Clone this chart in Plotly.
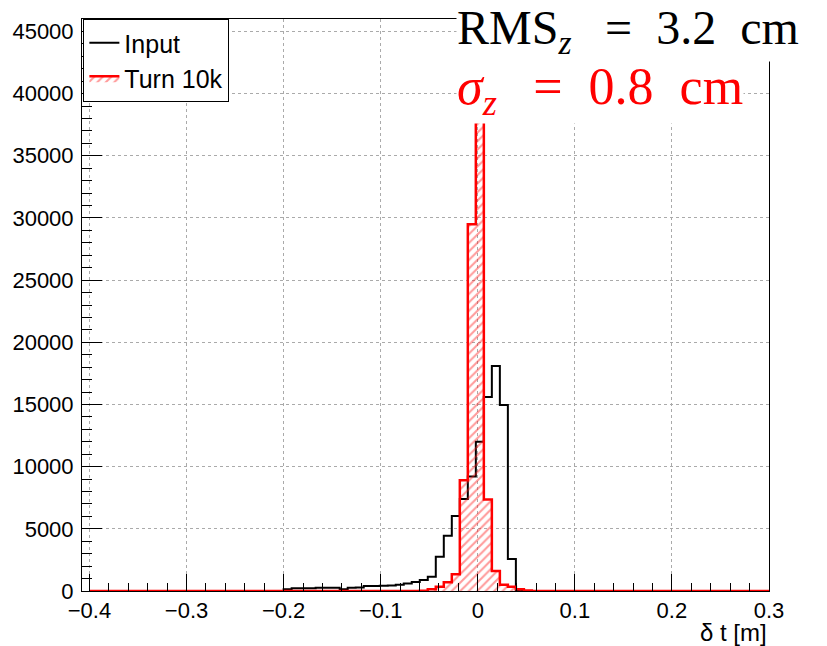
import plotly.graph_objects as go

# Histogram binning (bins start at -0.2 m, equal width)
bin_start = -0.2
bin_width = 0.00825
axis_lo, axis_hi = -0.4, 0.3

# Counts per bin, starting at bin_start
input_counts = [140, 220, 220, 220, 260, 260, 270, 140, 270, 280,
                400, 400, 420, 450, 500, 600, 720, 880, 1150, 2750,
                4450, 6030, 7400, 9200, 12000, 15600, 18100, 14950, 2570, 0,
                0]
turn10k_counts = [0, 0, 0, 0, 0, 0, 0, 0, 0, 0,
                  0, 0, 0, 0, 0, 0, 0, 30, 140, 350,
                  700, 1350, 8900, 29500, 38200, 7350, 1600, 500, 350, 150,
                  40]

legend_names = ["Input", "Turn 10k"]
rms_text = "RMS<sub><i>z</i></sub>\u2002\u2009=\u20023.2\u2002cm"
sigma_text = "<i>σ</i><sub><i>z</i></sub>\u2002\u2009=\u20020.8\u2002cm"
x_title = "δ t [m]"


def step_xy(counts):
    edges = [bin_start + i * bin_width for i in range(len(counts) + 1)]
    xs = [axis_lo] + edges[:-1] + [edges[-1], axis_hi]
    ys = [0] + list(counts) + [0, 0]
    return xs, ys


fig = go.Figure()
xi, yi = step_xy(input_counts)
fig.add_trace(go.Scatter(x=xi, y=yi, mode="lines", line=dict(color="black", width=2, shape="hv"),
                         name=legend_names[0]))
xt, yt = step_xy(turn10k_counts)
fig.add_trace(go.Scatter(x=xt, y=yt, mode="lines", line=dict(color="red", width=2.5, shape="hv"),
                         fill="tozeroy", fillcolor="rgba(255,0,0,0)",
                         fillpattern=dict(shape="/", fgcolor="rgba(255,30,30,0.9)",
                                          bgcolor="rgba(255,255,255,0)", size=6, solidity=0.35),
                         name=legend_names[1]))

font_family = "Liberation Sans, Arial, sans-serif"
serif = "Liberation Serif, Times New Roman, serif"
fig.update_layout(
    width=827, height=646,
    margin=dict(l=82, r=58, t=19, b=55),
    paper_bgcolor="white", plot_bgcolor="white",
    font=dict(family=font_family, size=22, color="black"),
    showlegend=True,
    legend=dict(x=0.002, y=1, xanchor="left", yanchor="top", bgcolor="white",
                bordercolor="black", borderwidth=1, font=dict(size=25)),
    xaxis=dict(range=[-0.4077, axis_hi], tick0=0, dtick=0.1, ticks="inside", ticklen=17,
               tickcolor="black", showline=True, linecolor="black", linewidth=1, mirror=True,
               showgrid=True, gridcolor="#aaaaaa", griddash="dot", gridwidth=1, zeroline=False,
               tickfont=dict(size=22),
               minor=dict(dtick=0.02, tick0=0, ticks="inside", ticklen=8, tickcolor="black", showgrid=False)),
    yaxis=dict(range=[0, 46000], tick0=0, dtick=5000, tickformat="d", ticks="inside", ticklen=20,
               tickcolor="black", showline=True, linecolor="black", linewidth=1, mirror=True,
               showgrid=True, gridcolor="#aaaaaa", griddash="dot", gridwidth=1, zeroline=False,
               tickfont=dict(size=22), ticklabelstandoff=3,
               minor=dict(dtick=1000, tick0=0, ticks="inside", ticklen=10, tickcolor="black", showgrid=False)),
)

fig.add_annotation(text=x_title, xref="paper", yref="paper", x=1.0, y=0, xanchor="right", yanchor="middle",
                   yshift=-41, showarrow=False, font=dict(size=24, family=font_family))
fig.add_annotation(text=rms_text, xref="paper", yref="paper", x=(456 - 82) / 687, y=(591 - 31) / 572,
                   xanchor="left", yanchor="middle", showarrow=False, bgcolor="white", borderpad=0,
                   font=dict(size=48, family=serif, color="black"))
fig.add_annotation(text=sigma_text, xref="paper", yref="paper", x=(456 - 82) / 687, y=(591 - 91) / 572,
                   xanchor="left", yanchor="middle", showarrow=False, bgcolor="white", borderpad=0,
                   font=dict(size=52, family=serif, color="red"))

fig.write_html("out.html")
